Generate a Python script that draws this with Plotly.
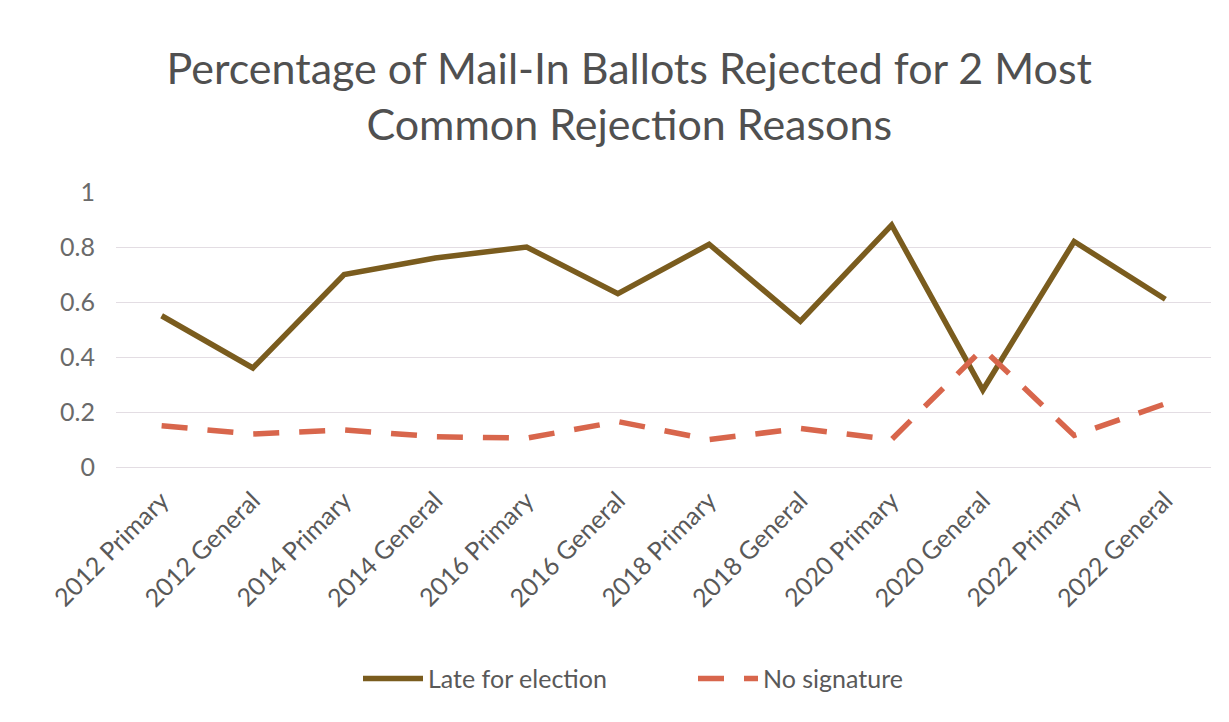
import plotly.graph_objects as go

categories = ["2012 Primary", "2012 General", "2014 Primary", "2014 General",
              "2016 Primary", "2016 General", "2018 Primary", "2018 General",
              "2020 Primary", "2020 General", "2022 Primary", "2022 General"]
late_for_election = [0.55, 0.36, 0.70, 0.76, 0.80, 0.63, 0.81, 0.53, 0.88, 0.28, 0.82, 0.61]
no_signature = [0.15, 0.12, 0.135, 0.11, 0.105, 0.165, 0.10, 0.14, 0.10, 0.43, 0.115, 0.23]
y_ticks = [0, 0.2, 0.4, 0.6, 0.8, 1]
y_tick_labels = ["0", "0.2", "0.4", "0.6", "0.8", "1"]

FONT = "Lato, 'Open Sans', sans-serif"

fig = go.Figure()
fig.add_trace(go.Scatter(
    x=categories, y=late_for_election, mode="lines", name="Late for election",
    line=dict(color="#7a5c1e", width=5.5),
))
fig.add_trace(go.Scatter(
    x=categories, y=no_signature, mode="lines", name="No signature",
    line=dict(color="#d8664c", width=5.5, dash="26px,20px"),
))

fig.update_layout(
    width=1229, height=722,
    paper_bgcolor="white", plot_bgcolor="white",
    margin=dict(l=116, r=18, t=192, b=255),
    title=dict(
        text="Percentage of Mail-In Ballots Rejected for 2 Most<br>Common Rejection Reasons",
        x=0.512, xanchor="center", y=1 - 84 / 722, yanchor="middle",
        font=dict(family=FONT, size=43, color="#505050"),
    ),
    font=dict(family=FONT, color="#595959"),
    showlegend=True,
    legend=dict(
        orientation="h", x=(358 - 116) / 1095, xanchor="left", y=-0.77, yanchor="middle",
        font=dict(family=FONT, size=25, color="#595959"),
        entrywidth=260, entrywidthmode="pixels", itemwidth=60,
        bgcolor="rgba(0,0,0,0)",
    ),
    xaxis=dict(
        type="category", tickangle=-45, showgrid=False, showline=False,
        ticks="", ticklabelstandoff=13,
        tickfont=dict(family=FONT, size=25, color="#595959"),
        range=[-0.5, len(categories) - 0.5],
    ),
    yaxis=dict(
        range=[0, 1], tickvals=y_ticks, ticktext=y_tick_labels,
        showgrid=True, gridcolor="#e3dde3", gridwidth=1.2,
        zeroline=True, zerolinecolor="#e3dde3", zerolinewidth=1.2,
        ticks="", ticklabelstandoff=20,
        tickfont=dict(family=FONT, size=25, color="#6a6a6a"),
    ),
)

fig.write_html("out.html")
